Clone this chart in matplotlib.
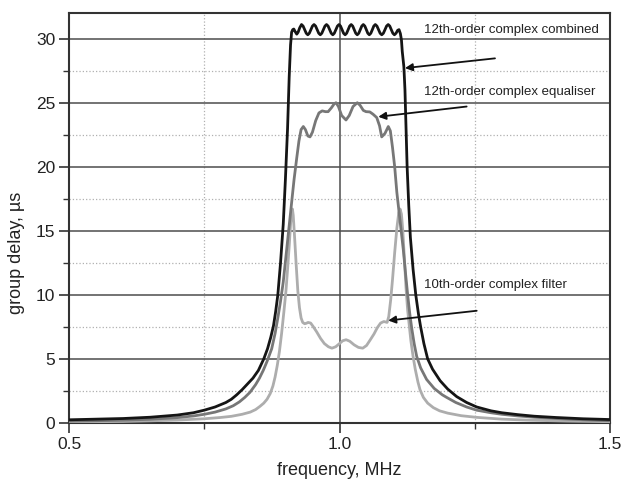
import matplotlib
matplotlib.use("Agg")
import matplotlib.pyplot as plt
from matplotlib.ticker import MultipleLocator, FixedLocator

plt.rcParams['font.family'] = ['Liberation Sans', 'DejaVu Sans']

# ---- data ----
combined_f = [0.50, 0.55, 0.60, 0.65, 0.70, 0.73, 0.75, 0.77, 0.79, 0.80, 0.81, 0.82, 0.83,
              0.84, 0.85, 0.86, 0.867, 0.873, 0.878, 0.882, 0.886, 0.891, 0.896, 0.900,
              0.904, 0.907, 0.9095, 0.9115, 0.9135, 0.9155, 0.918, 0.921, 0.9235, 0.9265,
              0.9298, 0.9327, 0.9356, 0.9385, 0.9414, 0.9442, 0.9471, 0.9500,
              0.9529, 0.9558, 0.9587, 0.9616, 0.9645, 0.9673, 0.9702, 0.9731,
              0.9760, 0.9789, 0.9818, 0.9847, 0.9876, 0.9904, 0.9933, 0.9962,
              0.9991, 1.0019, 1.0047, 1.0075, 1.0104, 1.0132, 1.0160, 1.0188,
              1.0216, 1.0244, 1.0272, 1.0300, 1.0328, 1.0356, 1.0384, 1.0412,
              1.0440, 1.0468, 1.0496, 1.0523, 1.0551, 1.0579, 1.0607, 1.0634,
              1.0662, 1.0692, 1.0722, 1.0751, 1.0781, 1.0811, 1.0841, 1.0870,
              1.0900, 1.0929, 1.0957, 1.0986, 1.1015, 1.1045, 1.1075, 1.1100,
              1.1125, 1.1145, 1.116, 1.119, 1.121, 1.123, 1.125, 1.128, 1.131, 1.136,
              1.141, 1.146, 1.150, 1.156, 1.163, 1.172, 1.186, 1.200, 1.2166, 1.235,
              1.2536, 1.28, 1.30, 1.33, 1.36, 1.40, 1.45, 1.50]
combined_d = [0.25, 0.30, 0.35, 0.45, 0.62, 0.80, 1.0, 1.25, 1.6, 1.85, 2.2, 2.6, 3.05,
              3.5, 4.1, 5.0, 5.8, 6.7, 7.6, 8.7, 10.0, 12.5, 15.5, 19.0,
              23.0, 27.0, 29.5, 30.5, 30.7, 30.75, 30.55, 30.35, 30.5, 30.85,
              31.1, 30.98, 30.7, 30.42, 30.3, 30.42, 30.7, 30.98,
              31.1, 30.98, 30.7, 30.42, 30.3, 30.42, 30.7, 30.98,
              31.1, 30.98, 30.7, 30.42, 30.3, 30.42, 30.7, 30.98,
              31.1, 30.98, 30.7, 30.42, 30.3, 30.42, 30.7, 30.98,
              31.1, 30.98, 30.7, 30.42, 30.3, 30.42, 30.7, 30.98,
              31.1, 30.98, 30.7, 30.42, 30.3, 30.42, 30.7, 30.98,
              31.1, 30.98, 30.7, 30.42, 30.3, 30.42, 30.7, 30.98,
              31.1, 30.98, 30.7, 30.42, 30.3, 30.42, 30.65, 30.7,
              30.4, 29.9, 29.0, 27.8, 26.0, 23.0, 20.0, 17.0, 14.5, 12.0,
              10.0, 8.5, 7.5, 6.2, 5.0, 4.2, 3.3, 2.65, 2.06, 1.6,
              1.25, 0.95, 0.80, 0.65, 0.53, 0.43, 0.33, 0.27]

equaliser_f = [0.50, 0.55, 0.60, 0.65, 0.70, 0.73, 0.75, 0.77, 0.79, 0.8037, 0.815, 0.825,
               0.8346, 0.845, 0.852, 0.859, 0.866, 0.8747, 0.881, 0.886, 0.891, 0.896,
               0.901, 0.906, 0.911, 0.916, 0.921, 0.925, 0.929, 0.9331, 0.937, 0.9415,
               0.9455, 0.950, 0.956, 0.962, 0.968, 0.974, 0.979, 0.985, 0.990, 0.9935,
               0.998, 1.004, 1.012, 1.018, 1.025, 1.0329, 1.038, 1.044, 1.049, 1.056,
               1.062, 1.0688, 1.074, 1.078, 1.084, 1.0902, 1.094, 1.098, 1.102, 1.106,
               1.110, 1.114, 1.118, 1.122, 1.126, 1.130, 1.1335, 1.138, 1.1427, 1.150,
               1.161, 1.175, 1.190, 1.198, 1.215, 1.235, 1.2536, 1.28, 1.30, 1.33, 1.36,
               1.40, 1.45, 1.50]
equaliser_d = [0.15, 0.18, 0.22, 0.29, 0.42, 0.55, 0.68, 0.85, 1.1, 1.35, 1.65, 2.0,
               2.4, 3.0, 3.5, 4.1, 4.8, 5.8, 7.0, 8.2, 9.5, 11.0,
               13.0, 15.0, 17.0, 19.0, 20.7, 22.0, 22.9, 23.14, 22.9, 22.4,
               22.33, 22.7, 23.6, 24.2, 24.36, 24.3, 24.3, 24.6, 24.9, 25.0,
               24.7, 24.0, 23.65, 24.0, 24.7, 25.0, 24.8, 24.4, 24.3, 24.28,
               24.1, 23.84, 23.2, 22.33, 22.6, 23.14, 22.8, 21.5, 20.0, 18.0,
               16.5, 15.0, 13.5, 11.7, 10.0, 8.5, 7.4, 6.2, 5.2, 4.3,
               3.4, 2.7, 2.2, 2.0, 1.6, 1.25, 1.0, 0.8, 0.68, 0.55, 0.45,
               0.35, 0.25, 0.18]

filter_f = [0.50, 0.55, 0.60, 0.65, 0.70, 0.75, 0.78, 0.80, 0.82, 0.835, 0.845, 0.853,
            0.860, 0.866, 0.872, 0.877, 0.881, 0.885, 0.889, 0.893, 0.897, 0.901, 0.904,
            0.907, 0.9095, 0.9116, 0.913, 0.9145, 0.917, 0.920, 0.923, 0.926, 0.929,
            0.932, 0.9355, 0.9385, 0.942, 0.9467, 0.951, 0.958, 0.965, 0.972, 0.9795,
            0.986, 0.993, 1.000, 1.006, 1.0123, 1.019, 1.027, 1.035, 1.043, 1.050, 1.057,
            1.0638, 1.070, 1.076, 1.082, 1.088, 1.091, 1.0946, 1.098, 1.102, 1.106,
            1.1095, 1.112, 1.1145, 1.117, 1.120, 1.123, 1.126, 1.129, 1.132, 1.136,
            1.140, 1.145, 1.1488, 1.155, 1.163, 1.1734, 1.185, 1.20, 1.225, 1.2536,
            1.30, 1.352, 1.42, 1.50]
filter_d = [0.08, 0.10, 0.12, 0.17, 0.23, 0.33, 0.43, 0.52, 0.68, 0.85, 1.05, 1.3,
            1.55, 1.85, 2.3, 2.9, 3.6, 4.5, 5.6, 7.0, 8.6, 10.3, 12.0,
            13.8, 15.5, 16.6, 16.7, 16.2, 14.5, 12.3, 10.3, 9.0, 8.2,
            7.85, 7.75, 7.78, 7.85, 7.8, 7.55, 7.1, 6.6, 6.2, 5.95,
            5.84, 5.95, 6.2, 6.42, 6.5, 6.38, 6.1, 5.9, 5.84, 6.05, 6.5,
            6.95, 7.45, 7.8, 7.92, 7.85, 8.3, 9.6, 11.2, 13.3, 15.2,
            16.4, 16.7, 16.3, 15.0, 12.8, 10.5, 8.8, 7.6, 6.4, 5.2,
            4.2, 3.2, 2.6, 2.0, 1.55, 1.2, 0.95, 0.77, 0.57, 0.44,
            0.30, 0.22, 0.15, 0.10]

labels = ["12th-order complex combined", "12th-order complex equaliser", "10th-order complex filter"]
x_ticks = [0.5, 1.0, 1.5]
x_tick_labels = ["0.5", "1.0", "1.5"]
y_ticks = [0, 5, 10, 15, 20, 25, 30]

# ---- figure ----
fig = plt.figure(figsize=(6.24, 4.80), dpi=100)
ax = fig.add_axes([69/624, 1 - 423/480, (610 - 69)/624, (423 - 13)/480])

ax.set_xlim(0.5, 1.5)
ax.set_ylim(0, 32)

ax.xaxis.set_major_locator(FixedLocator(x_ticks))
ax.set_xticklabels(x_tick_labels)
ax.xaxis.set_minor_locator(MultipleLocator(0.25))
ax.yaxis.set_major_locator(FixedLocator(y_ticks))
ax.yaxis.set_minor_locator(MultipleLocator(2.5))

ax.grid(which='major', color='#4d4d4d', linewidth=1.1, linestyle='-', zorder=0)
ax.grid(which='minor', color='#b0b0b0', linewidth=0.9, linestyle=':', zorder=0)
ax.set_axisbelow(True)

for s in ax.spines.values():
    s.set_color('#333333')
    s.set_linewidth(1.5)

ax.tick_params(which='major', direction='out', length=7, width=1.2, colors='#333333',
               labelsize=12.5, labelcolor='#222222', pad=3)
ax.tick_params(which='minor', direction='out', length=4, width=1.0, colors='#333333')

line_kw = dict(linewidth=2.0, solid_joinstyle='round', solid_capstyle='round')
ax.plot(filter_f, filter_d, color='#adadad', zorder=3, **line_kw)
ax.plot(equaliser_f, equaliser_d, color='#777777', zorder=4, **line_kw)
ax.plot(combined_f, combined_d, color='#151515', zorder=5, **line_kw)

ax.set_xlabel("frequency, MHz", fontsize=13, color='#222222')
ax.set_ylabel("group delay, \u00b5s", fontsize=13, color='#222222')
ax.xaxis.set_label_coords(0.5, -0.095)
ax.yaxis.set_label_coords(-0.081, 0.415)

# annotations
txt_kw = dict(fontsize=9.5, color='#222222', ha='left', va='center', zorder=6)
ax.text(1.156, 30.7, labels[0], **txt_kw)
ax.text(1.156, 25.85, labels[1], **txt_kw)
ax.text(1.156, 10.8, labels[2], **txt_kw)

arr = dict(arrowstyle='-|>', color='#111111', lw=1.3, mutation_scale=11,
           shrinkA=0, shrinkB=0)
ax.annotate("", xy=(1.121, 27.7), xytext=(1.2874, 28.46), arrowprops=arr, zorder=6)
ax.annotate("", xy=(1.0717, 23.9), xytext=(1.235, 24.7), arrowprops=arr, zorder=6)
ax.annotate("", xy=(1.090, 8.0), xytext=(1.2536, 8.76), arrowprops=arr, zorder=6)

fig.savefig("out.png", dpi=100)
